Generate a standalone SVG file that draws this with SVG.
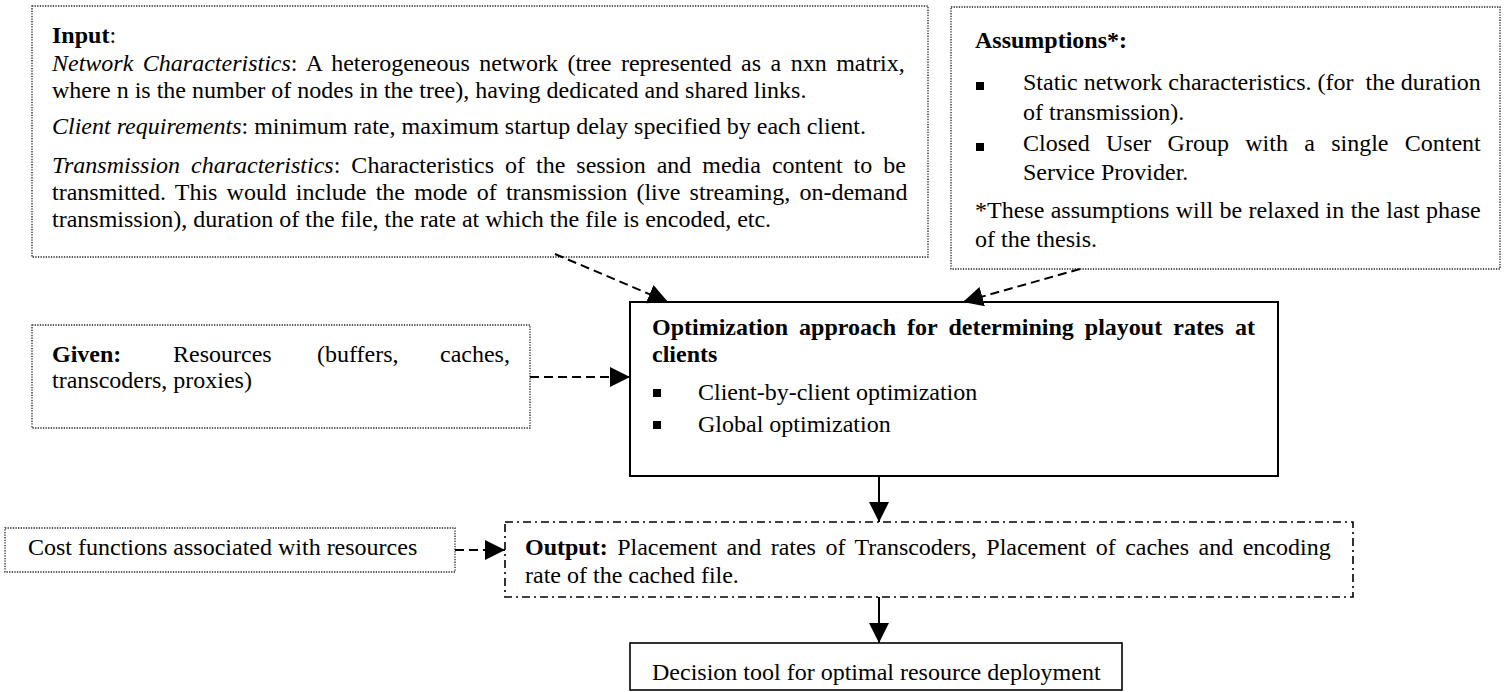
<svg xmlns="http://www.w3.org/2000/svg" width="1509" height="692" viewBox="0 0 1509 692">
  <style>
    text { font-family: "Liberation Serif", "Times New Roman", serif; font-size: 24px; fill: #000; }
    .b { font-weight: bold; }
    .i { font-style: italic; }
    .dotted { fill: #fff; stroke: #222; stroke-width: 1.3; stroke-dasharray: 1.3 1.3; }
    .solid { fill: #fff; stroke: #000; stroke-width: 2; }
    .dashdot { fill: #fff; stroke: #000; stroke-width: 1.6; stroke-dasharray: 8 4 2 4; }
    .conn { fill: none; stroke: #000; stroke-width: 2; marker-end: url(#head); }
    .dash { stroke-dasharray: 9 5; }
    .pre { white-space: pre; }
  </style>
  <defs>
    <marker id="head" markerUnits="userSpaceOnUse" markerWidth="20" markerHeight="20" refX="20" refY="10" orient="auto">
      <path d="M0,0 L20,10 L0,20 Z" fill="#000"/>
    </marker>
  </defs>

  <rect width="1509" height="692" fill="#fff"/>

  <!-- Input -->
  <g id="input">
    <rect class="dotted" x="32" y="6" width="896" height="251"/>
    <text x="52" y="43"><tspan class="b">Input</tspan>:</text>
    <text x="52" y="71" word-spacing="3.5"><tspan class="i">Network Characteristics</tspan>: A heterogeneous network (tree represented as a nxn matrix,</text>
    <text x="52" y="98">where n is the number of nodes in the tree), having dedicated and shared links.</text>
    <text x="52" y="134"><tspan class="i">Client requirements</tspan>: minimum rate, maximum startup delay specified by each client.</text>
    <text x="52" y="173" word-spacing="5"><tspan class="i">Transmission characteristics</tspan>: Characteristics of the session and media content to be</text>
    <text x="52" y="200" word-spacing="3.2">transmitted. This would include the mode of transmission (live streaming, on-demand</text>
    <text x="52" y="227">transmission), duration of the file, the rate at which the file is encoded, etc.</text>
  </g>

  <!-- Assumptions -->
  <g id="assumptions">
    <rect class="dotted" x="951" y="7" width="549" height="262"/>
    <text class="b" x="975" y="48">Assumptions*:</text>
    <rect x="976" y="82" width="8" height="8"/>
    <text class="pre" x="1023" y="90">Static network characteristics. (for  the duration</text>
    <text x="1023" y="120">of transmission).</text>
    <rect x="976" y="143" width="8" height="8"/>
    <text x="1023" y="151" word-spacing="10.3">Closed User Group with a single Content</text>
    <text x="1023" y="180">Service Provider.</text>
    <text x="975" y="218" word-spacing="0.4">*These assumptions will be relaxed in the last phase</text>
    <text x="975" y="247">of the thesis.</text>
  </g>

  <!-- Given -->
  <g id="given">
    <rect class="dotted" x="32" y="325" width="498" height="103"/>
    <text class="b" x="52" y="362">Given:</text>
    <text x="173" y="362">Resources</text>
    <text x="317" y="362">(buffers,</text>
    <text x="440" y="362">caches,</text>
    <text x="52" y="388">transcoders, proxies)</text>
  </g>

  <!-- Optimization -->
  <g id="optimization">
    <rect class="solid" x="630" y="302" width="648" height="174"/>
    <text class="b" x="652" y="335" word-spacing="5.1">Optimization approach for determining playout rates at</text>
    <text class="b" x="652" y="362">clients</text>
    <rect x="653" y="389" width="8" height="8"/>
    <text x="698" y="400">Client-by-client optimization</text>
    <rect x="653" y="421" width="8" height="8"/>
    <text x="698" y="432">Global optimization</text>
  </g>

  <!-- Cost functions -->
  <g id="cost">
    <rect class="dotted" x="5" y="528" width="450" height="44"/>
    <text x="28" y="555">Cost functions associated with resources</text>
  </g>

  <!-- Output -->
  <g id="output">
    <rect class="dashdot" x="505" y="522" width="848" height="75"/>
    <text x="525" y="555" word-spacing="3.45"><tspan class="b">Output:</tspan> Placement and rates of Transcoders, Placement of caches and encoding</text>
    <text x="525" y="583">rate of the cached file.</text>
  </g>

  <!-- Decision tool -->
  <g id="decision">
    <rect x="630" y="643" width="492" height="47" fill="#fff" stroke="#000" stroke-width="1.6"/>
    <text x="652" y="680">Decision tool for optimal resource deployment</text>
  </g>

  <!-- Connectors -->
  <g id="connectors">
    <line class="conn dash" x1="555" y1="254" x2="668" y2="302"/>
    <line class="conn dash" x1="1080" y1="269" x2="963" y2="302"/>
    <line class="conn dash" x1="530" y1="377" x2="630" y2="377"/>
    <line class="conn" x1="879" y1="476" x2="879" y2="522"/>
    <line class="conn dash" x1="455" y1="550" x2="505" y2="550"/>
    <line class="conn" x1="879" y1="597" x2="879" y2="643"/>
  </g>
</svg>
